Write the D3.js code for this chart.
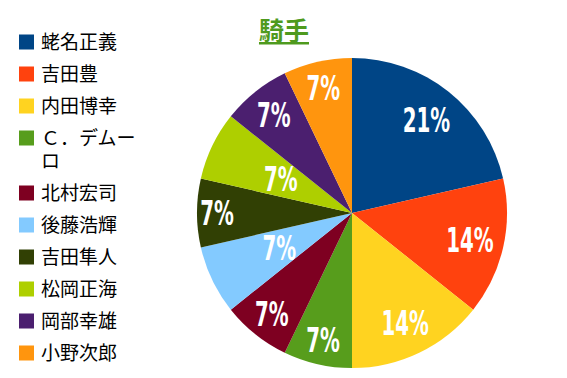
<!DOCTYPE html>
<html>
<head>
<meta charset="utf-8">
<script src="https://cdn.jsdelivr.net/npm/d3@7"></script>
<style>
  html, body { margin: 0; padding: 0; background: #fff; }
  svg { display: block; }
</style>
</head>
<body>
<script>
const w = 567; // width of chart
const h = 378; // height of chart

// chart data
const title = "騎手";
const jockeys = ["蛯名正義", "吉田豊", "内田博幸", "Ｃ．デムーロ", "北村宏司",
                 "後藤浩輝", "吉田隼人", "松岡正海", "岡部幸雄", "小野次郎"];
const wins = [3, 2, 2, 1, 1, 1, 1, 1, 1, 1];
const colors = ["#004586", "#ff420e", "#ffd320", "#579d1c", "#7e0021",
                "#83caff", "#314004", "#aecf00", "#4b1f6f", "#ff950e"];

// label distance from centre, as fraction of the radius (layout only)
const labelPos = [0.77, 0.78, 0.79, 0.84, 0.83, 0.52, 0.87, 0.51, 0.81, 0.83];

const cx = 352, cy = 213, R = 155;

const svg = d3.select("body")
    .append("svg")
    .attr("width", w)
    .attr("height", h);

// title
svg.append("text")
    .attr("x", 284)
    .attr("y", 40)
    .attr("text-anchor", "middle")
    .attr("font-family", "'Noto Sans CJK JP', sans-serif")
    .attr("font-size", 25)
    .attr("font-weight", "bold")
    .attr("fill", "#4e9a1e")
    .attr("text-decoration", "underline")
    .text(title);

// pie
const total = d3.sum(wins);
const pie = d3.pie().sort(null).value(d => d);
const arcs = pie(wins);
const arc = d3.arc().innerRadius(0).outerRadius(R);
const color = d3.scaleOrdinal().domain(jockeys).range(colors);
const pct = d3.format(".0%");

const g = svg.append("g").attr("transform", `translate(${cx},${cy})`);

g.selectAll("path")
    .data(arcs)
    .enter()
    .append("path")
    .attr("d", arc)
    .attr("fill", (d, i) => color(jockeys[i]));

// condensed bold labels (narrowed DejaVu Condensed)
g.selectAll("text.lbl")
    .data(arcs)
    .enter()
    .append("text")
    .attr("class", "lbl")
    .attr("transform", (d, i) => {
        const r = R * labelPos[i];
        const a = (d.startAngle + d.endAngle) / 2;
        return `translate(${r * Math.sin(a)},${-r * Math.cos(a)}) scale(0.76,1.15)`;
    })
    .attr("dy", "0.36em")
    .attr("text-anchor", "middle")
    .attr("font-family", "'DejaVu Sans Condensed', sans-serif")
    .attr("font-weight", "bold")
    .attr("font-size", 29)
    .attr("fill", "#fff")
    .text(d => pct(d.value / total));

// legend
const legend = svg.append("g");
const maxW = 105;
let y = 42;
jockeys.forEach(name => {
    legend.append("rect")
        .attr("x", 19)
        .attr("y", y - 7.5)
        .attr("width", 15)
        .attr("height", 15)
        .attr("fill", color(name));

    // wrap long names at maxW
    const probe = legend.append("text")
        .attr("font-family", "'Noto Sans CJK JP', sans-serif")
        .attr("font-size", 19);
    let line = "", lines = [];
    for (const ch of name) {
        probe.text(line + ch);
        if (probe.node().getComputedTextLength() > maxW && line) {
            lines.push(line);
            line = ch;
        } else {
            line += ch;
        }
    }
    lines.push(line);
    probe.remove();

    lines.forEach((l, k) => {
        legend.append("text")
            .attr("x", 41)
            .attr("y", y + k * 23)
            .attr("dy", "0.36em")
            .attr("font-family", "'Noto Sans CJK JP', sans-serif")
            .attr("font-size", 19)
            .attr("fill", "#000")
            .text(l);
    });

    y += 32 + (lines.length - 1) * 23;
});
</script>
</body>
</html>
